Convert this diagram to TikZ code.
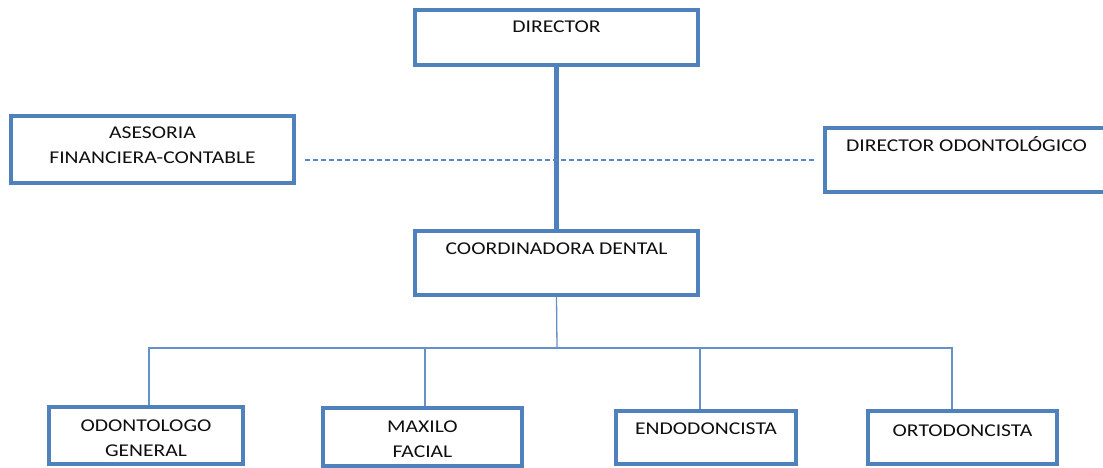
\documentclass[tikz,border=0pt]{standalone}
\usepackage{fontspec}
\setmainfont[FakeStretch=1.2]{Carlito}
\definecolor{boxblue}{RGB}{79,129,189}
\definecolor{linkblue}{RGB}{100,145,200}
\definecolor{dashblue}{RGB}{85,135,200}
\definecolor{ink}{RGB}{15,15,15}
\tikzset{
  orgbox/.style={draw=boxblue, line width=4pt, fill=white, inner sep=0pt},
  lbl/.style={anchor=base, inner sep=0pt, text=ink, align=center,
              font=\fontsize{18}{25}\selectfont},
  conn/.style={draw=linkblue, line width=1.3pt},
  mainline/.style={draw=boxblue, line width=5pt},
  dotted link/.style={draw=dashblue, line width=1.3pt, dash pattern=on 5pt off 3pt}
}
\begin{document}
\begin{tikzpicture}[x=1pt,y=-1pt]
\useasboundingbox (0,0) rectangle (1103,468);
\begin{scope}
\clip (0,0) rectangle (1103,468);

% boxes
\node[orgbox, minimum width=283pt, minimum height=55pt] (dir)   at (556.5,37.5) {};
\node[orgbox, minimum width=283pt, minimum height=67pt] (ase)   at (152.5,149.5) {};
\node[orgbox, minimum width=283pt, minimum height=64pt] (odo)   at (966.5,160) {};
\node[orgbox, minimum width=283pt, minimum height=64pt] (coord) at (556.5,263) {};
\node[orgbox, minimum width=194pt, minimum height=57pt] (gen)   at (146,435.5) {};
\node[orgbox, minimum width=199pt, minimum height=58pt] (max)   at (422.5,437) {};
\node[orgbox, minimum width=180pt, minimum height=53pt] (endo)  at (706,437.5) {};
\node[orgbox, minimum width=189pt, minimum height=53pt] (orto)  at (962.5,437.5) {};

% connectors
\draw[mainline] (dir.south) -- (coord.north);
\draw[dotted link] ([shift={(9,10.5)}]ase.east) -- ([xshift=-7]odo.west);
\coordinate (bus) at (557,348);
\draw[conn] (coord.south) -- (bus);
\draw[conn] ([xshift=3]gen.north) |- (bus);
\draw[conn] ([xshift=2.5]max.north) |- (bus);
\draw[conn] ([xshift=-6]endo.north) |- (bus);
\draw[conn] ([xshift=-10.5]orto.north) |- (bus);

% labels (base anchor sits on the last line)
\node[lbl] (tdir)   at (556.5,32.5) {DIRECTOR};
\node[lbl] (tase)   at (152.5,164) {ASESORIA\\FINANCIERA-CONTABLE};
\node[lbl] (todo)   at (966.5,152) {DIRECTOR ODONTOLÓGICO};
\node[lbl] (tcoord) at (556.5,254) {COORDINADORA DENTAL};
\node[lbl] (tgen)   at (146,456) {ODONTOLOGO\\GENERAL};
\node[lbl] (tmax)   at (422.5,457) {MAXILO\\FACIAL};
\node[lbl] (tendo)  at (706,434) {ENDODONCISTA};
\node[lbl] (torto)  at (962.5,436) {ORTODONCISTA};
\end{scope}
\end{tikzpicture}
\end{document}
